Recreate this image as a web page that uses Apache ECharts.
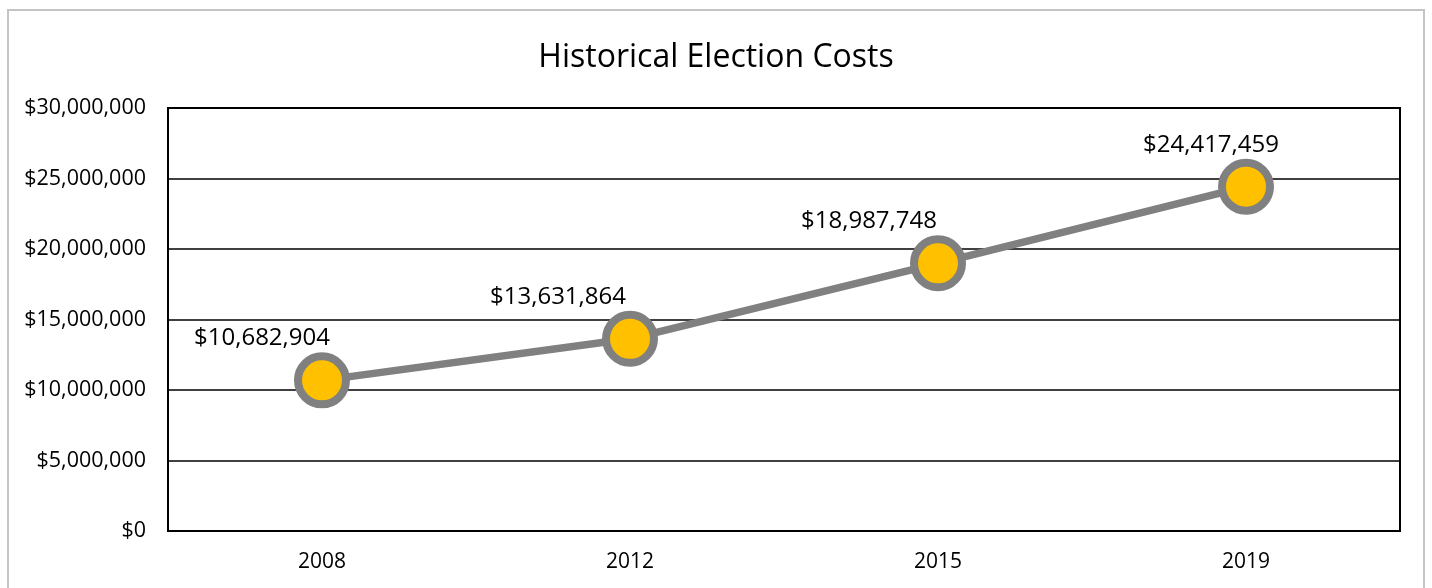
<!DOCTYPE html>
<html>
<head>
<meta charset="utf-8">
<script src="https://cdn.jsdelivr.net/npm/echarts@6/dist/echarts.min.js"></script>
<style>
html,body{margin:0;padding:0;background:#fff;}
#frame{position:absolute;left:7px;top:9px;width:1418px;height:600px;border:2px solid #c4c4c4;box-sizing:border-box;}
#chart{position:absolute;left:0;top:0;width:1432px;height:588px;}
</style>
</head>
<body>
<div id="frame"></div>
<div id="chart"></div>
<script>
const title = "Historical Election Costs";
const years = ["2008", "2012", "2015", "2019"];
const costs = [10682904, 13631864, 18987748, 24417459];
const yTicks = { min: 0, max: 30000000, interval: 5000000 };
// label offsets (style only, relative to each point)
const labelShiftX = [-60, -72, -69, -35];

function money(v) {
  return "$" + Math.round(v).toString().replace(/\B(?=(\d{3})+(?!\d))/g, ",");
}

const chart = echarts.init(document.getElementById('chart'), null, { renderer: 'canvas' });
const FONT = "'Open Sans', sans-serif";

chart.setOption({
  animation: false,
  backgroundColor: 'transparent',
  title: {
    text: title,
    left: 'center',
    top: 37,
    textStyle: { fontFamily: FONT, fontSize: 32, fontWeight: 'normal', color: '#000' }
  },
  grid: { left: 168, right: 32, top: 108, bottom: 57, show: true, borderColor: '#000', borderWidth: 2 },
  xAxis: {
    type: 'category',
    data: years,
    boundaryGap: true,
    axisLine: { show: true, lineStyle: { color: '#000', width: 2 } },
    axisTick: { show: false },
    axisLabel: { fontFamily: FONT, fontSize: 21, color: '#000', margin: 21 },
    splitLine: { show: false }
  },
  yAxis: {
    type: 'value',
    min: yTicks.min,
    max: yTicks.max,
    interval: yTicks.interval,
    axisLine: { show: true, lineStyle: { color: '#000', width: 2 } },
    axisTick: { show: false },
    axisLabel: { fontFamily: FONT, fontSize: 21.5, color: '#000', margin: 22, formatter: money },
    splitLine: { show: true, lineStyle: { color: '#000', width: 1.5 } }
  },
  series: [{
    type: 'line',
    data: costs.map((v, i) => ({
      value: v,
      label: { offset: [labelShiftX[i], 3] }
    })),
    lineStyle: { color: '#808080', width: 7.5 },
    symbol: 'circle',
    symbolSize: 48,
    itemStyle: { color: '#FFC000', borderColor: '#808080', borderWidth: 8 },
    label: {
      show: true,
      position: 'top',
      fontFamily: FONT,
      fontSize: 24,
      color: '#000',
      formatter: p => money(p.value)
    },
    z: 5
  }]
});
</script>
</body>
</html>
